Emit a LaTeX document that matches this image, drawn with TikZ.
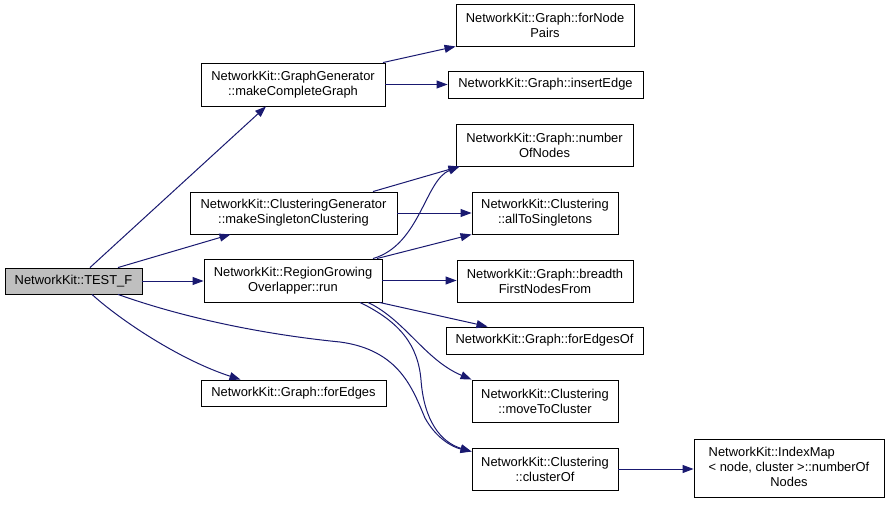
\documentclass[tikz,border=0pt]{standalone}
\usepackage{fontspec}
\setmainfont{Liberation Sans}
\usetikzlibrary{arrows.meta,calc}
\definecolor{edgeblue}{RGB}{25,25,112}
\definecolor{rootgrey}{RGB}{191,191,191}
\begin{document}
\begin{tikzpicture}[x=1pt,y=-1pt,
  box/.style={draw=black,line width=0.9pt,fill=white,inner sep=0pt,align=center,
    font=\fontsize{12.9}{15}\selectfont},
  call/.style={draw=edgeblue,line width=1pt,-{Triangle[length=11pt,width=8pt]}}]
\useasboundingbox (0,0) rectangle (888,505);
% nodes
\node[box,fill=rootgrey,minimum width=137pt,minimum height=26pt] (testf) at (73.5,281) {NetworkKit::TEST\_F};
\node[box,minimum width=184pt,minimum height=43pt] (mcg) at (293,84.5) {NetworkKit::GraphGenerator\\::makeCompleteGraph};
\node[box,minimum width=207pt,minimum height=42pt] (msc) at (293.5,213) {NetworkKit::ClusteringGenerator\\::makeSingletonClustering};
\node[box,minimum width=178pt,minimum height=43pt] (run) at (293,280.5) {NetworkKit::RegionGrowing\\Overlapper::run};
\node[box,minimum width=185pt,minimum height=26pt] (fe) at (293.5,393) {NetworkKit::Graph::forEdges};
\node[box,minimum width=178pt,minimum height=42pt] (fnp) at (545,25) {NetworkKit::Graph::forNode\\Pairs};
\node[box,minimum width=195pt,minimum height=27pt] (ie) at (545.5,84.5) {NetworkKit::Graph::insertEdge};
\node[box,minimum width=177pt,minimum height=42pt] (non) at (544.5,145) {NetworkKit::Graph::number\\OfNodes};
\node[box,minimum width=146pt,minimum height=42pt] (ats) at (545,213) {NetworkKit::Clustering\\::allToSingletons};
\node[box,minimum width=176pt,minimum height=42pt] (bfn) at (545,281) {NetworkKit::Graph::breadth\\FirstNodesFrom};
\node[box,minimum width=197pt,minimum height=27pt] (feo) at (544.5,340.5) {NetworkKit::Graph::forEdgesOf};
\node[box,minimum width=146pt,minimum height=42pt] (mtc) at (545,401) {NetworkKit::Clustering\\::moveToCluster};
\node[box,minimum width=146pt,minimum height=42pt] (co) at (545,469) {NetworkKit::Clustering\\::clusterOf};
\node[box,minimum width=190pt,minimum height=58pt] (im) at (789,468) {\begin{tabular}{@{}l@{}}NetworkKit::IndexMap\\< node, cluster >::numberOf\\\multicolumn{1}{@{}c@{}}{Nodes}\end{tabular}};
% edges
\draw[call] ([xshift=16.5pt]testf.north) -- ([xshift=-27pt]mcg.south);
\draw[call] ([xshift=44.5pt]testf.north) -- ([xshift=-63pt]msc.south);
\draw[call] (testf.east) -- (testf.east -| run.west);
\draw[call] ([xshift=18.5pt]testf.south) .. controls (120,320) and (180,360) .. ([xshift=-53pt]fe.north);
\draw[call] ([xshift=44.5pt]testf.south) .. controls (190,320) and (270,335) .. (340,342)
   .. controls (400,350) and (413,390) .. (425,418) .. controls (436,438) and (452,447) .. ([yshift=-4pt]co.north west);
\draw[call] ([xshift=90pt]mcg.north) -- (fnp.south west);
\draw[call] (mcg.east) -- (ie.west);
\draw[call] ([xshift=79.5pt]msc.north) -- ([xshift=4pt]non.south west);
\draw[call] (msc.east) -- (ats.west);
\draw[call] ([xshift=80pt]run.north) .. controls (420,245) and (425,180) .. ([xshift=4pt]non.south west);
\draw[call] ([xshift=84pt]run.north) -- (ats.south west);
\draw[call] (run.east) -- (run.east -| bfn.west);
\draw[call] ([xshift=-3pt]run.south east) -- ([xshift=-57pt]feo.north);
\draw[call] ([xshift=75pt]run.south) .. controls (405,320) and (425,360) .. (mtc.north west);
\draw[call] ([xshift=67pt]run.south) .. controls (400,322) and (418,345) .. (421,380)
   .. controls (424,420) and (440,442) .. ([yshift=-4pt]co.north west);
\draw[call] (co.east) -- (co.east -| im.west);
\end{tikzpicture}
\end{document}
